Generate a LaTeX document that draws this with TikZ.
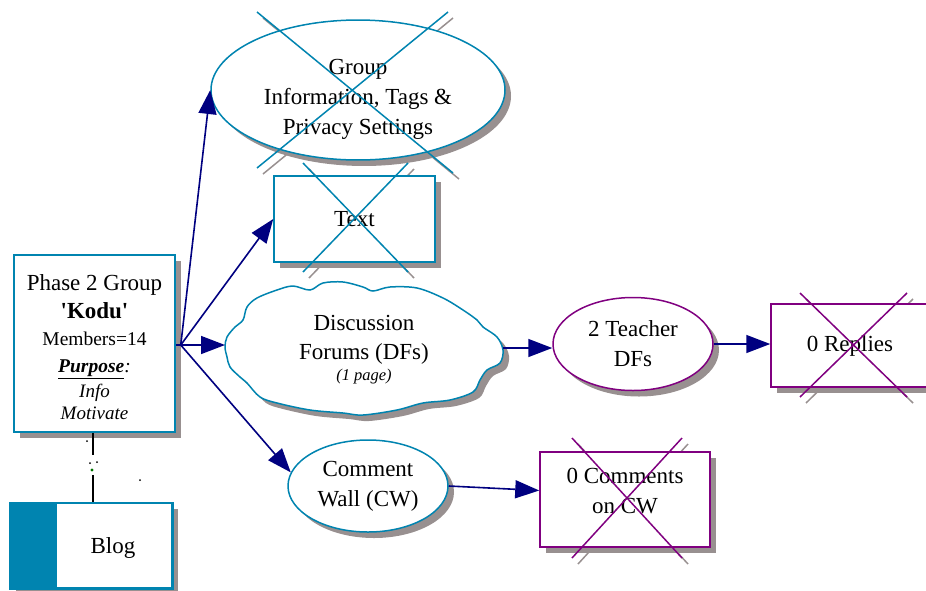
\documentclass[tikz,border=0pt]{standalone}
\usepackage{fontspec}
\setmainfont{Liberation Serif}
\usetikzlibrary{arrows.meta,shapes.geometric,shadows}
\definecolor{tealc}{RGB}{0,132,176}
\definecolor{purpc}{RGB}{128,0,128}
\definecolor{navyc}{RGB}{0,0,128}
\definecolor{shadc}{RGB}{152,144,144}
\begin{document}
\begin{tikzpicture}[x=1pt,y=-1pt,
  every node/.style={font=\fontsize{23}{30}\selectfont, align=center, inner sep=0pt},
  sh/.style={drop shadow={shadow xshift=6pt,shadow yshift=-6pt,fill=shadc,opacity=1}},
  tealshape/.style={draw=tealc, line width=1.5pt, fill=white, sh},
  purpshape/.style={draw=purpc, line width=1.5pt, fill=white, sh},
  conn/.style={draw=navyc, line width=1.6pt, -{Triangle[length=24pt,width=18pt]}},
  tealx/.style={draw=tealc, line width=1.5pt},
  purpx/.style={draw=purpc, line width=1.5pt},
  shadx/.style={draw=shadc, line width=1.5pt},
  dot/.style={fill=black}
]
\useasboundingbox (0,0) rectangle (926,590);

% Group ellipse
\draw[shadx] (263,18) -- (459,179) (453,18) -- (263,174);
\node[ellipse, tealshape, minimum width=294pt, minimum height=120pt] (grp) at (358,90)
  {\rule{0pt}{34pt}Group\\Information, Tags \&\\Privacy Settings};
\draw[tealx] (257,12) -- (453,173) (448,12) -- (257,168);

% Text box
\draw[shadx] (309,169) -- (414,278) (414,169) -- (309,278);
\node[rectangle, tealshape, minimum width=161pt, minimum height=86pt] (txt) at (354.5,219) {Text};
\draw[tealx] (303,163) -- (408,272) (408,163) -- (303,272);

% Phase box
\node[rectangle, tealshape, minimum width=161pt, minimum height=177pt,
      font=\fontsize{23}{27}\selectfont] (ph) at (94.5,343.5)
  {\rule{0pt}{24pt}Phase 2 Group\\[1pt]
   \textbf{\textquotesingle Kodu\textquotesingle}\\
   {\fontsize{19.5}{27}\selectfont Members=14}\\
   {\fontsize{19.5}{27}\selectfont\textbf{\textit{\underline{Purpose}}}\textit{:}}\\[-2pt]
   {\fontsize{19}{27}\selectfont\itshape Info}\\[-5pt]
   {\fontsize{19}{27}\selectfont\itshape Motivate}};

% Blog
\node[rectangle, draw=tealc, line width=1.5pt, fill=white, sh, minimum width=162pt, minimum height=85pt] (blog) at (91,545.5) {};
\fill[tealc] (blog.north west) rectangle (57,588);
\draw[draw=tealc, line width=1.5pt] (blog.north west) rectangle (blog.south east);
\node (blogt) at (113,548) {Blog};

\coordinate (b1) at (93,455);
\coordinate (b2) at (93,475);
\draw[line width=1.3pt] (ph.south -| b1) -- (b1);
\draw[line width=1.3pt] (b2) -- (blog.north -| b2);
\fill[dot] (87,441) circle (1);
\fill[dot] (90,463) circle (1);
\fill[dot] (97,462) circle (1);
\fill[dot] (140,480) circle (1);
\fill[green!45!black] (92,470) circle (1.6);

% Discussion forums cloud
\def\cloudpts{(225,347) (227,337) (235,327) (243,320) (247,307) (257,298) (277,290) (293,286)
  (310,290) (323,283) (343,282) (363,287) (373,291) (390,287) (417,288) (443,298) (463,310)
  (477,320) (483,327) (497,337) (503,350) (500,363) (487,370) (480,380) (473,392) (450,400)
  (423,403) (397,410) (363,415) (343,413) (310,410) (277,403) (260,397) (247,383) (240,377)
  (230,367) (227,357)}
\fill[shadc, shift={(6,6)}] plot[smooth cycle, tension=0.55] coordinates {\cloudpts};
\filldraw[fill=white, draw=tealc, line width=1.5pt] plot[smooth cycle, tension=0.55] coordinates {\cloudpts};
\node (df) at (364,350)
  {Discussion\\[-1pt]Forums (DFs)\\[-9pt]{\fontsize{16.5}{20}\selectfont\itshape (1 page)}};
\coordinate (dfw) at (225,345);
\coordinate (dfe) at (503,348);

% Teacher DFs
\node[ellipse, purpshape, minimum width=160pt, minimum height=93pt] (tdf) at (633,344) {2 Teacher\\DFs};

% Replies
\draw[shadx] (806,299) -- (913,403) (913,299) -- (806,403);
\node[rectangle, purpshape, minimum width=158pt, minimum height=83pt] (rep) at (850,345.5) {0 Replies};
\draw[purpx] (800,293) -- (907,397) (907,293) -- (800,397);

% Comment wall
\node[ellipse, tealshape, minimum width=160pt, minimum height=92pt] (cw) at (368,486) {Comment\\Wall (CW)};

% Comments
\draw[shadx] (578,444) -- (688,564) (688,444) -- (578,564);
\node[rectangle, purpshape, minimum width=170pt, minimum height=95pt] (com) at (625,499.5)
  {0 Comments\\on CW\rule[-18pt]{0pt}{18pt}};
\draw[purpx] (572,438) -- (682,558) (682,438) -- (572,558);

% Connectors
\coordinate (hub) at ([xshift=5pt]ph.east |- dfw);
\draw[navyc, line width=1.6pt] (ph.east |- dfw) -- (hub);
\draw[conn] (hub) -- (grp.west);
\draw[conn] (hub) -- (txt.west);
\draw[conn] (hub) -- (dfw);
\draw[conn] (hub) -- (cw.170);
\draw[conn] (dfe) -- (dfe -| tdf.west);
\draw[conn] (tdf.east) -- (tdf.east -| rep.west);
\draw[conn] (cw.east) -- (com.174);
\end{tikzpicture}
\end{document}
